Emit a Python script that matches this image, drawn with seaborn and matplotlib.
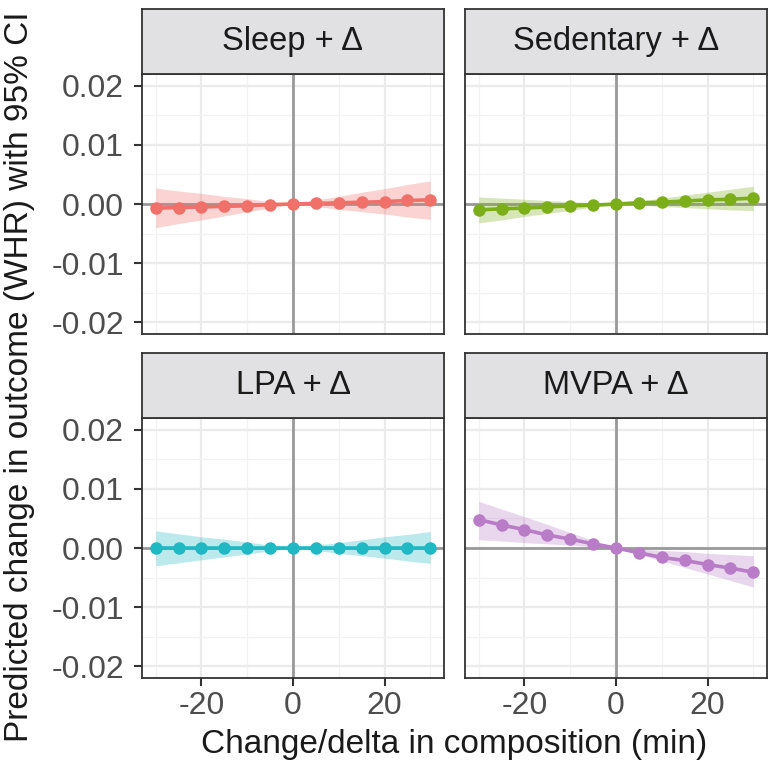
import numpy as np
import pandas as pd
import seaborn as sns
import matplotlib.pyplot as plt
from matplotlib.ticker import MultipleLocator

# change in minutes for each panel
delta = [-30, -25, -20, -15, -10, -5, 0, 5, 10, 15, 20, 25, 30]

panels = ['Sleep + \u0394', 'Sedentary + \u0394', 'LPA + \u0394', 'MVPA + \u0394']

sleep_est = [-0.0007, -0.0006, -0.0005, -0.0004, -0.0003, -0.0001, 0.0, 0.0001, 0.0002, 0.0003, 0.0004, 0.0006, 0.0007]
sleep_lo = [-0.0040, -0.0033, -0.0027, -0.0020, -0.0013, -0.0007, 0.0, -0.0004, -0.0009, -0.0013, -0.0017, -0.0022, -0.0026]
sleep_hi = [0.0027, 0.0022, 0.0018, 0.0013, 0.0009, 0.0004, 0.0, 0.0007, 0.0013, 0.0020, 0.0026, 0.0033, 0.0039]

sed_est = [-0.0010, -0.0008, -0.0007, -0.0005, -0.0003, -0.0002, 0.0, 0.0002, 0.0003, 0.0005, 0.0007, 0.0008, 0.0010]
sed_lo = [-0.0032, -0.0027, -0.0021, -0.0016, -0.0011, -0.0005, 0.0, -0.0002, -0.0004, -0.0006, -0.0008, -0.0010, -0.0011]
sed_hi = [0.0012, 0.0010, 0.0008, 0.0006, 0.0004, 0.0002, 0.0, 0.0005, 0.0010, 0.0015, 0.0020, 0.0025, 0.0030]

lpa_est = [0.0, 0.0, 0.0, 0.0, 0.0, 0.0, 0.0, 0.0, 0.0, 0.0, 0.0, 0.0, 0.0]
lpa_lo = [-0.0030, -0.0025, -0.0020, -0.0015, -0.0010, -0.0005, 0.0, -0.0004, -0.0009, -0.0013, -0.0017, -0.0022, -0.0026]
lpa_hi = [0.0029, 0.0024, 0.0019, 0.0015, 0.0010, 0.0005, 0.0, 0.0005, 0.0009, 0.0014, 0.0019, 0.0023, 0.0028]

mvpa_est = [0.0048, 0.0039, 0.0031, 0.0022, 0.0015, 0.0007, 0.0, -0.0008, -0.0016, -0.0021, -0.0028, -0.0034, -0.0041]
mvpa_lo = [0.0014, 0.0012, 0.0009, 0.0007, 0.0005, 0.0002, 0.0, -0.0011, -0.0022, -0.0033, -0.0044, -0.0055, -0.0066]
mvpa_hi = [0.0079, 0.0066, 0.0053, 0.0040, 0.0026, 0.0013, 0.0, -0.0002, -0.0004, -0.0006, -0.0009, -0.0011, -0.0013]

colors = ['#F0706A', '#7CAE1A', '#1FB8C3', '#B97CC6']

series = [
    (sleep_est, sleep_lo, sleep_hi),
    (sed_est, sed_lo, sed_hi),
    (lpa_est, lpa_lo, lpa_hi),
    (mvpa_est, mvpa_lo, mvpa_hi),
]

sns.set_theme(style='white')
plt.rcParams['font.family'] = ['Liberation Sans', 'DejaVu Sans']
plt.rcParams['axes.unicode_minus'] = False

fig = plt.figure(figsize=(7.76, 7.76), dpi=100)

W = 776.0
# panel boxes in pixels: (left, top, right, bottom), strip height
boxes = [(142, 74, 444, 334), (465, 74, 767, 334), (142, 418, 444, 678), (465, 418, 767, 678)]
strip_h = 65

for i, (name, (est, lo, hi), col) in enumerate(zip(panels, series, colors)):
    l, t, r, b = boxes[i]
    ax = fig.add_axes([l / W, 1 - b / W, (r - l) / W, (b - t) / W])
    sax = fig.add_axes([l / W, 1 - t / W, (r - l) / W, strip_h / W])

    df = pd.DataFrame({'delta': delta, 'est': est, 'lo': lo, 'hi': hi})

    ax.set_xlim(-33, 33)
    ax.set_ylim(-0.022, 0.022)
    ax.xaxis.set_major_locator(MultipleLocator(20))
    ax.xaxis.set_minor_locator(MultipleLocator(10))
    ax.yaxis.set_major_locator(MultipleLocator(0.01))
    ax.yaxis.set_minor_locator(MultipleLocator(0.005))
    ax.grid(which='major', color='#EBEBEB', linewidth=1.6)
    ax.grid(which='minor', color='#F2F2F2', linewidth=0.9)
    ax.set_axisbelow(True)

    ax.axhline(0, color='#9A9A9A', linewidth=2.0, zorder=1.5)
    ax.axvline(0, color='#9A9A9A', linewidth=2.0, zorder=1.5)

    ax.fill_between(df['delta'], df['lo'], df['hi'], color=col, alpha=0.3, linewidth=0, zorder=2)
    sns.lineplot(data=df, x='delta', y='est', ax=ax, color=col, linewidth=2.6,
                 marker='o', markersize=9, markeredgewidth=0, zorder=3)

    ax.set_xlabel('')
    ax.set_ylabel('')
    for sp in ax.spines.values():
        sp.set_color('#333333')
        sp.set_linewidth(1.3)
    ax.tick_params(which='major', direction='out', length=6, width=1.5, color='#333333',
                   labelsize=23, labelcolor='#4D4D4D')
    ax.tick_params(axis='y', left=(i % 2 == 0), pad=7)
    ax.tick_params(axis='x', bottom=(i >= 2), pad=3)
    ax.tick_params(which='minor', length=0)
    ax.yaxis.set_major_formatter(plt.FuncFormatter(lambda v, p: f'{v:.2f}'))

    if i % 2 == 1:
        ax.tick_params(labelleft=False)
    if i < 2:
        ax.tick_params(labelbottom=False)

    sax.set_facecolor('#E1E1E3')
    sax.set_xticks([])
    sax.set_yticks([])
    for sp in sax.spines.values():
        sp.set_color('#333333')
        sp.set_linewidth(1.3)
    sax.text(0.5, 0.5, name, ha='center', va='center', fontsize=23.5, color='#1A1A1A',
             transform=sax.transAxes)

fig.text((142 + 767) / 2 / W, 1 - 745 / W, 'Change/delta in composition (min)',
         ha='center', va='center', fontsize=24, color='#1A1A1A')
fig.text(20 / W, 1 - 377 / W, 'Predicted change in outcome (WHR) with 95% CI',
         ha='center', va='center', rotation=90, fontsize=24, color='#1A1A1A')

fig.savefig('out.png', dpi=100)
